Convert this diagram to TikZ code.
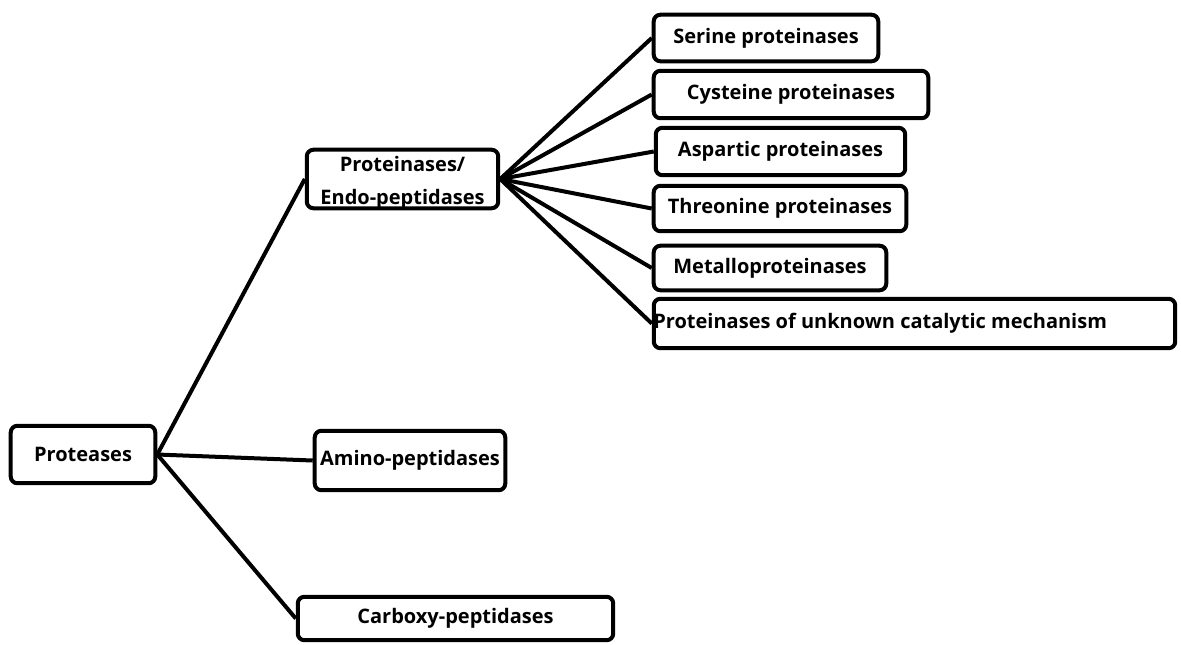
\documentclass[tikz,border=0pt]{standalone}
\usepackage{fontspec}
\setmainfont{Open Sans}
\begin{document}
\begin{tikzpicture}[x=0.75pt,y=-0.75pt,
  txt/.style={font=\fontsize{15}{24.75}\selectfont\bfseries},
  box/.style={draw=black, line width=3pt, rounded corners=5pt, fill=white, inner sep=0pt, txt},
  lbl/.style={inner sep=0pt, txt},
  conn/.style={draw=black, line width=3pt}]
\useasboundingbox (0,0) rectangle (1181,644);
% nodes
\node[box, minimum width=108.4pt, minimum height=43.1pt] (prot) at (83,454.5) {Proteases};
\node[box, minimum width=143.6pt, minimum height=43.9pt] (pe) at (402.5,179) {};
\node[lbl, align=center] (pet) at (402.5,183) {Proteinases/\\Endo-peptidases};
\node[box, minimum width=142.9pt, minimum height=44.6pt] (amino) at (410,460.5) {Amino-peptidases};
\node[box, minimum width=236.6pt, minimum height=32.6pt] (carb) at (455.5,618.5) {Carboxy-peptidases};
\node[box, minimum width=168.4pt, minimum height=34.9pt] (ser) at (766,38) {Serine proteinases};
\node[box, minimum width=205.9pt, minimum height=35.6pt] (cys) at (791,94.5) {Cysteine proteinases};
\node[box, minimum width=187.1pt, minimum height=35.6pt] (asp) at (780.5,151.5) {Aspartic proteinases};
\node[box, minimum width=189.4pt, minimum height=34.1pt] (thr) at (780,208.5) {Threonine proteinases};
\node[box, minimum width=174.4pt, minimum height=33.4pt] (met) at (770,268) {Metalloproteinases};
\node[box, minimum width=391.1pt, minimum height=37.1pt] (unk) at (914.5,323.5) {};
\node[lbl, anchor=west] (unkt) at ([xshift=1pt]unk.west) {Proteinases of unknown catalytic mechanism};
% connectors
\draw[conn] (prot.east) -- (pe.west);
\draw[conn] (prot.east) -- (amino.west);
\draw[conn] (prot.east) -- (carb.west);
\foreach \c in {ser,cys,asp,thr,met,unk}{
  \draw[conn] (pe.east) -- (\c.west);
}
\end{tikzpicture}
\end{document}
